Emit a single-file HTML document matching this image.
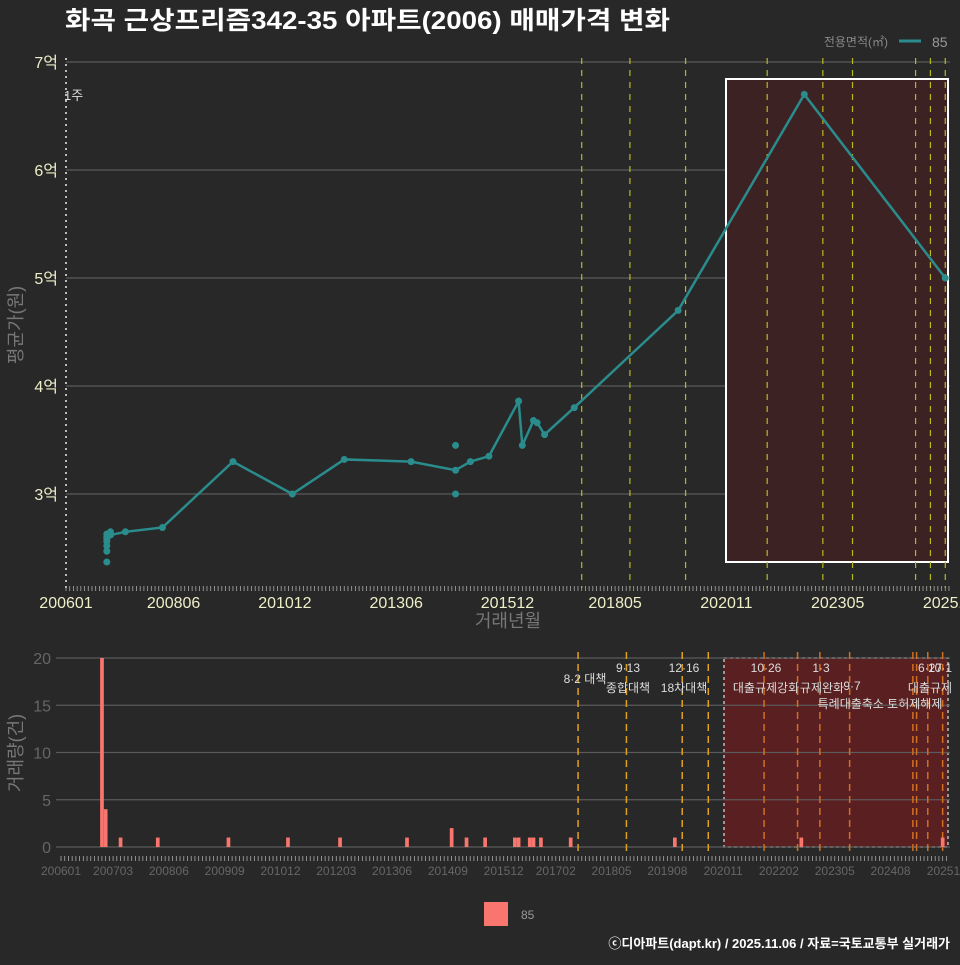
<!DOCTYPE html>
<html><head><meta charset="utf-8"><style>
body{margin:0;background:#282828;}
svg text{font-family:"Liberation Sans","Noto Sans CJK KR",sans-serif;}
</style></head><body>
<svg id="c" width="960" height="960" xmlns="http://www.w3.org/2000/svg">
<rect width="960" height="960" fill="#282828"/>
<text x="65" y="29" fill="#fff" font-size="25" font-weight="bold" textLength="605" lengthAdjust="spacingAndGlyphs">화곡 근상프리즘342-35 아파트(2006) 매매가격 변화</text>
<text x="888" y="46" fill="#888" font-size="12" text-anchor="end">전용면적(㎡)</text>
<line x1="899" y1="41" x2="921" y2="41" stroke="#2a8c8c" stroke-width="3"/>
<text x="932" y="47" fill="#999" font-size="14">85</text>
<g id="top"></g><g id="bot"></g>
<text transform="translate(22,325) rotate(-90)" fill="#777" font-size="18" text-anchor="middle">평균가(원)</text>
<text x="508" y="627" fill="#777" font-size="18" text-anchor="middle">거래년월</text>
<text transform="translate(22,753) rotate(-90)" fill="#777" font-size="18" text-anchor="middle">거래량(건)</text>
<rect x="484" y="902" width="24" height="24" fill="#f8766d"/>
<text x="521" y="919" fill="#999" font-size="12">85</text>
<text x="950" y="948" fill="#fff" font-size="13" font-weight="bold" text-anchor="end">ⓒ디아파트(dapt.kr) / 2025.11.06 / 자료=국토교통부 실거래가</text>
</svg>
<script>
const lineMonths=["200612","200701","200705","200803","200910","201102","201204","201310","201410","201502","201507","201603","201604","201607","201608","201610","201706","201910","202208","202510"];
const lineValues=[2.58,2.62,2.65,2.69,3.30,3.0,3.32,3.30,3.22,3.30,3.35,3.86,3.45,3.68,3.66,3.55,3.80,4.70,6.70,5.0];
const dotMonths=["200612","200612","200612","200612","200612","200612","200701","201410","201410"];
const dotValues=[2.37,2.47,2.52,2.56,2.60,2.63,2.65,3.45,3.0];
const barMonths=["200612","200701","200705","200803","200910","201102","201204","201310","201410","201502","201507","201603","201604","201607","201608","201610","201706","201910","202208","202510"];
const barValues=[20,4,1,1,1,1,1,1,2,1,1,1,1,1,1,1,1,1,1,1];
const yTicks=[3,4,5,6,7];
const volTicks=[0,5,10,15,20];
const xTickLabels=["200601","200806","201012","201306","201512","201805","202011","202305","202511"];
const botTickLabels=["200601","200703","200806","200909","201012","201203","201306","201409","201512","201702","201805","201908","202011","202202","202305","202408","202511"];
const policyMonths=["201708","201809","201912","202110","202301","202309","202502","202506","202510"];
const policyMonthsBottom=["201708","201809","201912","202007","202110","202207","202301","202309","202502","202503","202506","202510"];
const NS="http://www.w3.org/2000/svg";
function mi(s){return (parseInt(s.slice(0,4))-2006)*12+parseInt(s.slice(4,6)||"1")-1;}
const xT=m=>66+3.71*mi(m), yT=v=>494-(v-3)*108;
const xB=m=>61+3.72*mi(m), yB=v=>847-v*9.45;
function mk(p,t,a,txt){const e=document.createElementNS(NS,t);for(const k in a)e.setAttribute(k,a[k]);if(txt!=null)e.textContent=txt;p.appendChild(e);return e;}
const gTop=document.getElementById('top'), gBot=document.getElementById('bot');
yTicks.forEach(v=>{const g=mk(gTop,'line',{x1:66,x2:950,y1:yT(v),y2:yT(v),stroke:'#5a5a5a','stroke-width':1.2});

const t=mk(gTop,'text',{x:58,y:yT(v)+6,fill:'#eeeec8','font-size':16,'text-anchor':'end'},v+'억');
});
let r=mk(gTop,'rect',{x:726,y:79,width:222,height:483,fill:'#3d2224',stroke:'#fff','stroke-width':2});

mk(gTop,'line',{x1:66,x2:66,y1:58,y2:588,stroke:'#bbb','stroke-width':2,'stroke-dasharray':'2 4'});
let lb=mk(gTop,'text',{x:64,y:100,fill:'#ddd','font-size':13},'1주');
policyMonths.forEach(m=>{const l=mk(gTop,'line',{x1:xT(m),x2:xT(m),y1:58,y2:588,stroke:'#b8b820','stroke-width':1.2,'stroke-dasharray':'6 6'});
});
for(let m=0;m<=238;m++){mk(gTop,'line',{x1:66+3.71*m,x2:66+3.71*m,y1:586,y2:591,stroke:'#aaa','stroke-width':0.8});}
xTickLabels.forEach(s=>{const t=mk(gTop,'text',{x:xT(s),y:608,fill:'#eeeec8','font-size':16,'text-anchor':'middle'},s);
});
const pts=lineMonths.map((m,i)=>xT(m)+','+yT(lineValues[i])).join(' ');
const pl=mk(gTop,'polyline',{points:pts,fill:'none',stroke:'#2a8c8c','stroke-width':2.5});

lineMonths.forEach((m,i)=>{const c=mk(gTop,'circle',{cx:xT(m),cy:yT(lineValues[i]),r:3.5,fill:'#2a8c8c'});
});
dotMonths.forEach((m,i)=>{const c=mk(gTop,'circle',{cx:xT(m),cy:yT(dotValues[i]),r:3.5,fill:'#2a8c8c'});
});
let br=mk(gBot,'rect',{x:724,y:658,width:224,height:189,fill:'#5a1f20',stroke:'#bbb','stroke-width':1.5,'stroke-dasharray':'3 3'});

volTicks.forEach(v=>{const g=mk(gBot,'line',{x1:56,x2:950,y1:yB(v),y2:yB(v),stroke:'#5a5a5a','stroke-width':1.2});

const t=mk(gBot,'text',{x:51,y:yB(v)+6,fill:'#666','font-size':16,'text-anchor':'end'},v);
});
policyMonthsBottom.forEach((m,i)=>{const l=mk(gBot,'line',{x1:xB(m),x2:xB(m),y1:652,y2:856,stroke:i>3?'#d07020':'#e0a020','stroke-width':1.5,'stroke-dasharray':'7 5'});
});
barMonths.forEach((m,i)=>{const b=mk(gBot,'rect',{x:xB(m)-1.8,y:yB(barValues[i]),width:3.7,height:barValues[i]*9.45,fill:'#f8766d'});
});
for(let m=0;m<=238;m++){mk(gBot,'line',{x1:61+3.72*m,x2:61+3.72*m,y1:856,y2:861,stroke:'#aaa','stroke-width':0.8});}
botTickLabels.forEach(s=>{const t=mk(gBot,'text',{x:xB(s),y:875,fill:'#666','font-size':12,'text-anchor':'middle'},s);
});
const ann=[[585,683,"8·2 대책"],[628,672,"9·13"],[628,692,"종합대책"],[684,672,"12·16"],[684,692,"18차대책"],[766,672,"10·26"],[766,692,"대출규제강화"],[821,672,"1·3"],[822,692,"규제완화"],[852,690,"9·7"],[880,708,"특례대출축소 토허제해제"],[930,672,"6·27"],[940,672,"10·1"],[930,692,"대출규제"]];
ann.forEach(a=>{const t=mk(gBot,'text',{x:a[0],y:a[1],fill:'#ddd','font-size':12,'text-anchor':'middle'},a[2]);
});
</script>
</body></html>
